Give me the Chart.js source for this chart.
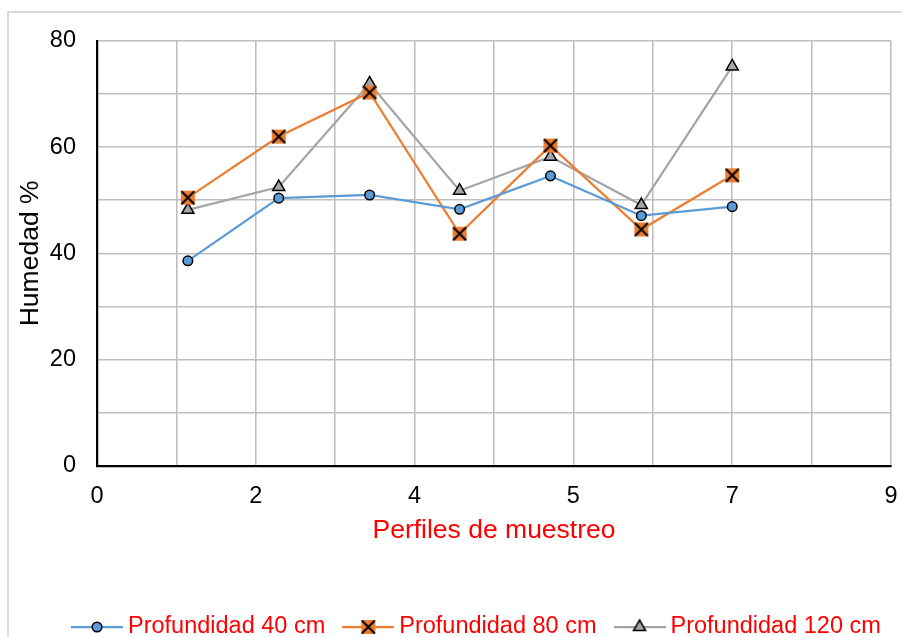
<!DOCTYPE html>
<html>
<head>
<meta charset="utf-8">
<script src="https://cdn.jsdelivr.net/npm/chart.js@4.4.1/dist/chart.umd.min.js"></script>
<style>
  html, body { margin: 0; padding: 0; background: #ffffff; }
  #wrap { width: 902px; height: 637px; }
</style>
</head>
<body>
<div id="wrap"><canvas id="chart" width="902" height="637"></canvas></div>
<script>
// Humedad (%) por perfil de muestreo y profundidad
const perfiles = [1.03, 2.06, 3.09, 4.11, 5.14, 6.17, 7.2];
const prof40  = [38.6, 50.4, 51.0, 48.3, 54.6, 47.1, 48.8];
const prof80  = [50.5, 62.0, 70.3, 43.7, 60.3, 44.5, 54.7];
const prof120 = [48.2, 52.5, 72.0, 51.8, 58.2, 49.1, 75.2];

const seriesNames = ['Profundidad 40 cm', 'Profundidad 80 cm', 'Profundidad 120 cm'];

const xTickValues = [0, 0.9, 1.8, 2.7, 3.6, 4.5, 5.4, 6.3, 7.2, 8.1, 9];
const xTickLabels = ['0', '', '2', '', '4', '', '5', '', '7', '', '9'];
const yTickLabels = ['0', '', '20', '', '40', '', '60', '', '80'];

const BLUE = '#5B9BD5', ORANGE = '#ED7D31', GRAY = '#A5A5A5';
const FONT = '"Liberation Sans", Arial, sans-serif';

// marker painters shared by the plot points and the legend icons
function paintCircle(g, x, y) {
  g.beginPath(); g.arc(x, y, 4.8, 0, Math.PI * 2);
  g.fillStyle = BLUE; g.fill();
  g.lineWidth = 1.5; g.strokeStyle = '#000'; g.stroke();
}
function paintCross(g, x, y) {
  const h = 7;
  g.fillStyle = ORANGE; g.fillRect(x - h, y - h, 2 * h, 2 * h);
  g.beginPath();
  g.moveTo(x - h + 0.5, y - h + 0.5); g.lineTo(x + h - 0.5, y + h - 0.5);
  g.moveTo(x + h - 0.5, y - h + 0.5); g.lineTo(x - h + 0.5, y + h - 0.5);
  g.lineWidth = 2; g.strokeStyle = '#000'; g.stroke();
}
function paintTriangle(g, x, y) {
  const r = 7;
  g.beginPath();
  g.moveTo(x, y - r);
  g.lineTo(x + r * Math.sin(Math.PI / 3), y + r / 2);
  g.lineTo(x - r * Math.sin(Math.PI / 3), y + r / 2);
  g.closePath();
  g.fillStyle = GRAY; g.fill();
  g.lineWidth = 1.5; g.strokeStyle = '#000'; g.stroke();
}

function crossPoint() {
  const c = document.createElement('canvas');
  c.width = 16; c.height = 16;
  paintCross(c.getContext('2d'), 8, 8);
  return c;
}

function legendIcon(color, painter) {
  const c = document.createElement('canvas');
  c.width = 52; c.height = 18;
  const g = c.getContext('2d');
  g.beginPath(); g.moveTo(0, 9); g.lineTo(52, 9);
  g.strokeStyle = color; g.lineWidth = 2.25; g.stroke();
  painter(g, 26, 9);
  return c;
}

const legendIcons = [
  legendIcon(BLUE, paintCircle),
  legendIcon(ORANGE, paintCross),
  legendIcon(GRAY, paintTriangle)
];

const toPoints = vals => vals.map((v, i) => ({ x: perfiles[i], y: v }));

// white page with the light frame around the chart
const framePlugin = {
  id: 'frame',
  beforeDraw(chart) {
    const ctx = chart.ctx;
    ctx.save();
    ctx.fillStyle = '#ffffff';
    ctx.fillRect(0, 0, chart.width, chart.height);
    ctx.strokeStyle = '#d9d9d9';
    ctx.lineWidth = 2;
    ctx.strokeRect(8, 12, chart.width + 20, chart.height + 20);
    ctx.restore();
  }
};

// legend row sits near the bottom edge, starting under the y axis
const LEGEND_ROW_Y = 627;
const LEGEND_LEFT = 54;
const legendPlacement = {
  id: 'legendPlacement',
  afterLayout(chart) {
    const lg = chart.legend;
    if (!lg) return;
    const pad = lg.options.labels.padding;
    const fs = lg.options.labels.font.size;
    const h = lg.bottom - lg.top;
    lg.top = LEGEND_ROW_Y - pad - fs / 2;
    lg.bottom = lg.top + h;
    const w = lg.right - lg.left;
    lg.left = LEGEND_LEFT;
    lg.right = lg.left + w;
  }
};

Chart.defaults.font.family = FONT;

new Chart(document.getElementById('chart'), {
  type: 'line',
  data: {
    datasets: [
      {
        label: seriesNames[0], data: toPoints(prof40),
        borderColor: BLUE, borderWidth: 2.25, tension: 0,
        pointStyle: 'circle', pointRadius: 4.8, pointBackgroundColor: BLUE,
        pointBorderColor: '#000', pointBorderWidth: 1.5
      },
      {
        label: seriesNames[1], data: toPoints(prof80),
        borderColor: ORANGE, borderWidth: 2.25, tension: 0,
        pointStyle: crossPoint(), pointRadius: 7
      },
      {
        label: seriesNames[2], data: toPoints(prof120),
        borderColor: GRAY, borderWidth: 2.25, tension: 0,
        pointStyle: 'triangle', pointRadius: 7, pointBackgroundColor: GRAY,
        pointBorderColor: '#000', pointBorderWidth: 1.5
      }
    ]
  },
  options: {
    responsive: false,
    animation: false,
    devicePixelRatio: 1,
    layout: { padding: { top: 41, right: 0, bottom: 0, left: 0 } },
    plugins: {
      tooltip: { enabled: false },
      legend: {
        position: 'bottom',
        align: 'start',
        labels: {
          usePointStyle: true,
          pointStyleWidth: 38.5,
          padding: 23.75,
          color: '#ff0000',
          font: { family: FONT, size: 23.5 },
          generateLabels: chart => chart.data.datasets.map((ds, i) => ({
            text: ds.label,
            pointStyle: legendIcons[i],
            fontColor: '#ff0000',
            fillStyle: ds.borderColor,
            strokeStyle: ds.borderColor,
            lineWidth: 0,
            hidden: false,
            datasetIndex: i
          }))
        }
      }
    },
    scales: {
      x: {
        type: 'linear',
        min: 0, max: 9,
        afterBuildTicks: scale => { scale.ticks = xTickValues.map(v => ({ value: v })); },
        afterFit: scale => {
          scale.height = 114;
          scale.paddingLeft = 0;
          scale.paddingRight = 11;
        },
        grid: {
          color: c => (c.tick && c.tick.value === 0) ? 'rgba(0,0,0,0)' : '#bfbfbf',
          lineWidth: 1.6,
          drawTicks: false
        },
        border: { color: '#000000', width: 2.25 },
        ticks: {
          padding: 17,
          autoSkip: false,
          maxRotation: 0,
          color: '#000000',
          font: { family: FONT, size: 23.5 },
          callback: (v, i) => xTickLabels[i]
        },
        title: {
          display: true,
          text: 'Perfiles de muestreo',
          color: '#ff0000',
          font: { family: FONT, size: 26.5 },
          padding: { top: 0, bottom: 33 }
        }
      },
      y: {
        min: 0, max: 80,
        afterFit: scale => { scale.width = 97; },
        grid: {
          color: c => (c.tick && c.tick.value === 0) ? 'rgba(0,0,0,0)' : '#bfbfbf',
          lineWidth: 1.6,
          drawTicks: false
        },
        border: { color: '#000000', width: 2.25 },
        ticks: {
          stepSize: 10,
          padding: 21,
          autoSkip: false,
          color: '#000000',
          font: { family: FONT, size: 23.5 },
          callback: (v, i) => yTickLabels[i]
        },
        title: {
          display: true,
          text: 'Humedad %',
          color: '#000000',
          font: { family: FONT, size: 26.5 },
          padding: { top: 14.6, bottom: 0 }
        }
      }
    }
  },
  plugins: [framePlugin, legendPlacement]
});
</script>
</body>
</html>
